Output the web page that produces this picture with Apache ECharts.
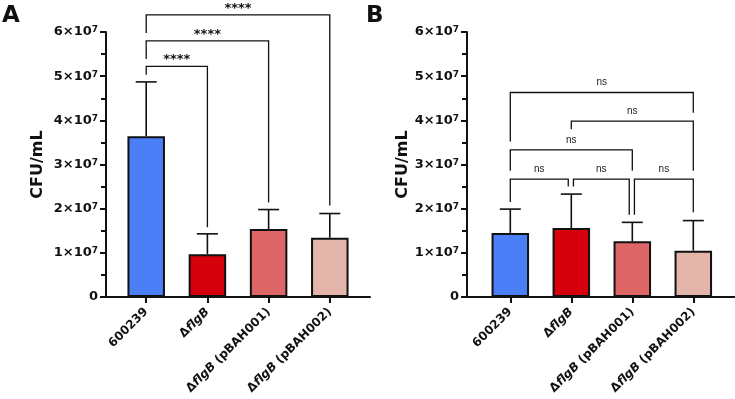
<!DOCTYPE html>
<html>
<head>
<meta charset="utf-8">
<script src="https://cdn.jsdelivr.net/npm/echarts@6/dist/echarts.min.js"></script>
<style>
html,body{margin:0;padding:0;background:#fff;}
#chart{width:735px;height:399px;}
</style>
</head>
<body>
<div id="chart"></div>
<script>
// ---------- data ----------
const categories = ['600239', 'ΔflgB', 'ΔflgB (pBAH001)', 'ΔflgB (pBAH002)'];
const yTicksMax = 6e7;
const yTickStep = 1e7;
const tickExponent = 7;

// Panel A (means and SD)
const meanA = [3.64e7, 0.97e7, 1.54e7, 1.34e7];
const sdA   = [1.23e7, 0.46e7, 0.44e7, 0.55e7];
// Panel B
const meanB = [1.45e7, 1.56e7, 1.26e7, 1.05e7];
const sdB   = [0.54e7, 0.77e7, 0.43e7, 0.68e7];

// brackets: [fromCategory, toCategory, level, leftLegEnd, rightLegEnd, label]
const bracketsA = [
  [0, 3, 6.39e7, 5.98e7, 2.07e7, '****'],
  [0, 2, 5.80e7, 5.39e7, 2.14e7, '****'],
  [0, 1, 5.22e7, 5.03e7, 1.58e7, '****']
];
const bracketsB = [
  [0, 3, 4.63e7, 3.52e7, 4.17e7, 'ns'],
  [1, 3, 3.98e7, 3.80e7, 2.86e7, 'ns'],
  [0, 2, 3.33e7, 2.86e7, 2.86e7, 'ns'],
  [0, 0.95, 2.67e7, 2.15e7, 2.50e7, 'ns'],
  [1.035, 1.95, 2.67e7, 2.50e7, 1.86e7, 'ns'],
  [2.035, 3, 2.67e7, 1.86e7, 1.92e7, 'ns']
];

const barColors = ['#4a7ff8', '#d5000b', '#de6667', '#e4b5aa'];

// ---------- styling ----------
const INK = '#111111';
const BOLD_FONT = '"DejaVu Sans", sans-serif';

function yLabel(v) {
  if (v === 0) return '{m|0}';
  const n = Math.round(v / Math.pow(10, tickExponent));
  return '{m|' + n + '×10}{s|' + tickExponent + '}';
}
function catLabel(v) {
  return '{n|' + v.replace('flgB', '}{i|flgB}{n|') + '}';
}

function frameY(gridIndex, nameGap) {
  return {
    type: 'value', gridIndex: gridIndex, min: 0, max: yTicksMax, interval: yTickStep,
    name: 'CFU/mL', nameLocation: 'middle', nameGap: nameGap, nameRotate: 90,
    nameTextStyle: { fontFamily: BOLD_FONT, fontWeight: 'bold', fontSize: 16, color: INK },
    axisLine: { show: true, lineStyle: { color: INK, width: 2 } },
    axisTick: { show: true, length: 6, lineStyle: { color: INK, width: 2 } },
    minorTick: { show: true, splitNumber: 2, length: 5, lineStyle: { color: INK, width: 2 } },
    splitLine: { show: false }, minorSplitLine: { show: false },
    axisLabel: {
      margin: 8, formatter: yLabel,
      rich: {
        m: { fontFamily: BOLD_FONT, fontWeight: 'bold', fontSize: 13, color: INK },
        s: { fontFamily: BOLD_FONT, fontWeight: 'bold', fontSize: 9, color: INK, verticalAlign: 'top' }
      }
    }
  };
}
function hiddenY(gridIndex) {
  return { type: 'value', gridIndex: gridIndex, min: 0, max: yTicksMax, interval: yTickStep, show: false };
}
function frameX(gridIndex) {
  return {
    type: 'value', gridIndex: gridIndex, min: 0, max: 1,
    axisLine: { show: true, onZero: false, lineStyle: { color: INK, width: 2 } },
    axisTick: { show: false }, axisLabel: { show: false }, splitLine: { show: false }
  };
}
function catX(gridIndex) {
  return {
    type: 'category', gridIndex: gridIndex, data: categories,
    axisLine: { show: false },
    axisTick: { show: true, alignWithLabel: true, length: 6, lineStyle: { color: INK, width: 2 } },
    axisLabel: {
      interval: 0, rotate: 45, margin: 13, formatter: catLabel,
      rich: {
        n: { fontFamily: BOLD_FONT, fontWeight: 'bold', fontSize: 12, color: INK },
        i: { fontFamily: BOLD_FONT, fontWeight: 'bold', fontStyle: 'italic', fontSize: 12, color: INK }
      }
    },
    splitLine: { show: false }
  };
}

function barSeries(axisIdx, means) {
  return {
    type: 'bar', xAxisIndex: axisIdx, yAxisIndex: axisIdx, barWidth: 37.5,
    data: means.map((v, i) => ({ value: v, itemStyle: { color: barColors[i] } })),
    itemStyle: { borderColor: INK, borderWidth: 2 },
    z: 2, silent: true
  };
}
function errSeries(axisIdx, means, sds) {
  return {
    type: 'custom', xAxisIndex: axisIdx, yAxisIndex: axisIdx, clip: false, z: 1, silent: true,
    data: means.map((m, i) => [i, m, m + sds[i]]),
    encode: { x: 0, y: [1, 2] },
    renderItem: function (params, api) {
      const base = api.coord([api.value(0), api.value(1)]);
      const top = api.coord([api.value(0), api.value(2)]);
      const half = 10.5;
      const st = { stroke: INK, lineWidth: 1.6 };
      return {
        type: 'group', children: [
          { type: 'line', shape: { x1: base[0], y1: base[1], x2: top[0], y2: top[1] }, style: st },
          { type: 'line', shape: { x1: top[0] - half, y1: top[1], x2: top[0] + half, y2: top[1] }, style: st }
        ]
      };
    }
  };
}
function bracketSeries(axisIdx, brackets, isStar) {
  return {
    type: 'custom', xAxisIndex: axisIdx, yAxisIndex: axisIdx, clip: false, z: 3, silent: true,
    data: brackets.map(b => [Math.round(b[0]), b[2]]),
    encode: { x: 0, y: 1 },
    renderItem: function (params, api) {
      const b = brackets[params.dataIndex];
      const band = api.size([1, 0])[0];
      const x0 = api.coord([0, 0])[0];
      const xa = x0 + b[0] * band, xb = x0 + b[1] * band;
      const yl = api.coord([0, b[2]])[1];
      const ya = api.coord([0, b[3]])[1];
      const yb = api.coord([0, b[4]])[1];
      return {
        type: 'group', children: [
          { type: 'polyline', shape: { points: [[xa, ya], [xa, yl], [xb, yl], [xb, yb]] },
            style: { stroke: INK, lineWidth: 1.3, fill: null } },
          { type: 'text', x: (xa + xb) / 2, y: yl - (isStar ? 6.5 : 10),
            style: isStar
              ? { text: b[5], fill: INK, fontFamily: BOLD_FONT, fontWeight: 'bold', fontSize: 13, align: 'center', verticalAlign: 'middle' }
              : { text: b[5], fill: '#222', fontFamily: '"Liberation Sans", Arial, sans-serif', fontSize: 10, align: 'center', verticalAlign: 'middle' } }
        ]
      };
    }
  };
}

const chart = echarts.init(document.getElementById('chart'), null, { renderer: 'canvas' });
chart.setOption({
  animation: false,
  backgroundColor: '#ffffff',
  title: [
    { text: 'A', left: 2, top: 5, textStyle: { fontFamily: BOLD_FONT, fontWeight: 'bold', fontSize: 23, color: INK }, padding: 0 },
    { text: 'B', left: 366, top: 5, textStyle: { fontFamily: BOLD_FONT, fontWeight: 'bold', fontSize: 23, color: INK }, padding: 0 }
  ],
  grid: [
    { left: 106, top: 32, width: 264, height: 265 },
    { left: 115.6, top: 32, width: 244.8, height: 265 },
    { left: 467, top: 32, width: 268, height: 265 },
    { left: 479.8, top: 32, width: 244, height: 265 }
  ],
  xAxis: [frameX(0), catX(1), frameX(2), catX(3)],
  yAxis: [frameY(0, 60), hiddenY(1), frameY(2, 54), hiddenY(3)],
  series: [
    errSeries(1, meanA, sdA), barSeries(1, meanA), bracketSeries(1, bracketsA, true),
    errSeries(3, meanB, sdB), barSeries(3, meanB), bracketSeries(3, bracketsB, false)
  ]
});
</script>
</body>
</html>
